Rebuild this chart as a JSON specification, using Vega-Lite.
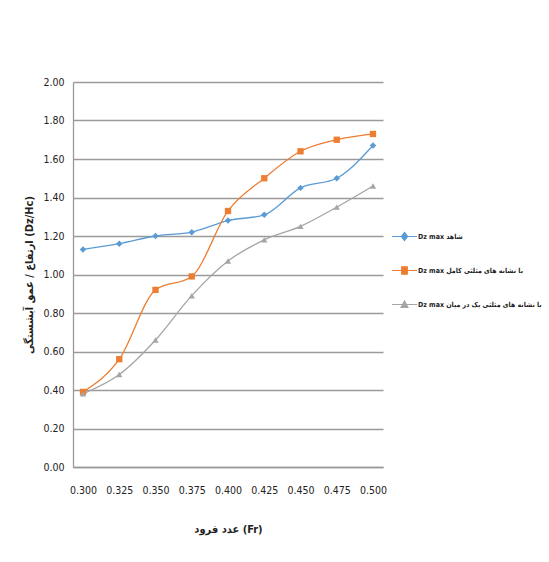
{
  "$schema": "https://vega.github.io/schema/vega-lite/v6.json",
  "autosize": {"type": "none"},
  "width": 310,
  "height": 385,
  "padding": {"left": 73, "top": 82, "right": 166, "bottom": 95},
  "background": "white",
  "config": {
    "font": "DejaVu Sans Condensed",
    "view": {"stroke": null},
    "axis": {"labelColor": "#222", "titleColor": "#222", "domainColor": "#9a9a9a", "domainWidth": 1.3, "ticks": false}
  },
  "data": {
    "values": [
      {"x": 0.300, "y": 1.13, "series": "Dz max شاهد"},
      {"x": 0.325, "y": 1.16, "series": "Dz max شاهد"},
      {"x": 0.350, "y": 1.20, "series": "Dz max شاهد"},
      {"x": 0.375, "y": 1.22, "series": "Dz max شاهد"},
      {"x": 0.400, "y": 1.28, "series": "Dz max شاهد"},
      {"x": 0.425, "y": 1.31, "series": "Dz max شاهد"},
      {"x": 0.450, "y": 1.45, "series": "Dz max شاهد"},
      {"x": 0.475, "y": 1.50, "series": "Dz max شاهد"},
      {"x": 0.500, "y": 1.67, "series": "Dz max شاهد"},
      {"x": 0.300, "y": 0.39, "series": "Dz max با نشانه های مثلثی کامل"},
      {"x": 0.325, "y": 0.56, "series": "Dz max با نشانه های مثلثی کامل"},
      {"x": 0.350, "y": 0.92, "series": "Dz max با نشانه های مثلثی کامل"},
      {"x": 0.375, "y": 0.99, "series": "Dz max با نشانه های مثلثی کامل"},
      {"x": 0.400, "y": 1.33, "series": "Dz max با نشانه های مثلثی کامل"},
      {"x": 0.425, "y": 1.50, "series": "Dz max با نشانه های مثلثی کامل"},
      {"x": 0.450, "y": 1.64, "series": "Dz max با نشانه های مثلثی کامل"},
      {"x": 0.475, "y": 1.70, "series": "Dz max با نشانه های مثلثی کامل"},
      {"x": 0.500, "y": 1.73, "series": "Dz max با نشانه های مثلثی کامل"},
      {"x": 0.300, "y": 0.38, "series": "Dz max با نشانه های مثلثی یک در میان"},
      {"x": 0.325, "y": 0.48, "series": "Dz max با نشانه های مثلثی یک در میان"},
      {"x": 0.350, "y": 0.66, "series": "Dz max با نشانه های مثلثی یک در میان"},
      {"x": 0.375, "y": 0.89, "series": "Dz max با نشانه های مثلثی یک در میان"},
      {"x": 0.400, "y": 1.07, "series": "Dz max با نشانه های مثلثی یک در میان"},
      {"x": 0.425, "y": 1.18, "series": "Dz max با نشانه های مثلثی یک در میان"},
      {"x": 0.450, "y": 1.25, "series": "Dz max با نشانه های مثلثی یک در میان"},
      {"x": 0.475, "y": 1.35, "series": "Dz max با نشانه های مثلثی یک در میان"},
      {"x": 0.500, "y": 1.46, "series": "Dz max با نشانه های مثلثی یک در میان"}
    ]
  },
  "encoding": {
    "x": {
      "field": "x",
      "type": "quantitative",
      "scale": {"domain": [0.2931, 0.5069], "nice": false, "zero": false},
      "axis": {
        "values": [0.3, 0.325, 0.35, 0.375, 0.4, 0.425, 0.45, 0.475, 0.5],
        "format": ".3f",
        "title": "عدد فرود (Fr)",
        "grid": false,
        "labelPadding": 18,
        "labelFontSize": 10.5,
        "titlePadding": 28,
        "titleFontSize": 11,
        "titleFontWeight": "bold"
      }
    },
    "y": {
      "field": "y",
      "type": "quantitative",
      "scale": {"domain": [0, 2], "nice": false},
      "axis": {
        "values": [0, 0.2, 0.4, 0.6, 0.8, 1.0, 1.2, 1.4, 1.6, 1.8, 2.0],
        "format": ".2f",
        "title": "ارتفاع / عمق آبشستگی (Dz/Hc)",
        "grid": true,
        "gridColor": "#9a9a9a",
        "gridWidth": 1.3,
        "labelPadding": 9,
        "labelFontSize": 10.5,
        "titlePadding": 8,
        "titleFontSize": 11,
        "titleFontWeight": "bold"
      }
    },
    "color": {
      "field": "series",
      "type": "nominal",
      "scale": {
        "domain": ["Dz max شاهد", "Dz max با نشانه های مثلثی کامل", "Dz max با نشانه های مثلثی یک در میان"],
        "range": ["#5B9BD5", "#ED7D31", "#A5A5A5"]
      },
      "legend": {
        "title": null,
        "orient": "none",
        "legendX": 314,
        "legendY": 150,
        "direction": "vertical",
        "symbolSize": 49,
        "symbolOffset": 13,
        "labelOffset": 9,
        "rowPadding": 21,
        "labelFontSize": 7,
        "labelFontWeight": "bold",
        "labelColor": "#222",
        "labelLimit": 200,
        "symbolStrokeWidth": 1.1,
        "encode": {"symbols": {"update": {"stroke": {"scale": "color", "field": "value"}, "fill": {"scale": "color", "field": "value"}, "opacity": {"value": 1}}}}
      }
    }
  },
  "layer": [
    {
      "mark": {"type": "line", "interpolate": "monotone", "strokeWidth": 1.3}
    },
    {
      "transform": [{"filter": "datum.series == 'Dz max شاهد'"}],
      "mark": {"type": "point", "filled": true, "opacity": 1, "size": 42, "shape": "diamond"}
    },
    {
      "transform": [{"filter": "datum.series == 'Dz max با نشانه های مثلثی کامل'"}],
      "mark": {"type": "point", "filled": true, "opacity": 1, "size": 40, "shape": "square"}
    },
    {
      "transform": [{"filter": "datum.series == 'Dz max با نشانه های مثلثی یک در میان'"}],
      "mark": {"type": "point", "filled": true, "opacity": 1, "size": 40, "shape": "triangle-up"}
    },
    {
      "transform": [{"filter": "datum.x < 0"}],
      "mark": {"type": "point", "filled": true, "opacity": 1},
      "encoding": {
        "shape": {
          "field": "series",
          "type": "nominal",
          "scale": {
            "domain": ["Dz max شاهد", "Dz max با نشانه های مثلثی کامل", "Dz max با نشانه های مثلثی یک در میان"],
            "range": ["M-3.6,0H3.6M0,-1.2L0.9,0L0,1.2L-0.9,0Z", "M-3.6,0H3.6M-0.8,-1.05H0.8V1.05H-0.8Z", "M-3.6,0H3.6M0,-1L1,0.85H-1Z"]
          },
          "legend": {
            "title": null,
            "orient": "none",
            "legendX": 314,
            "legendY": 150,
            "direction": "vertical",
            "symbolSize": 49,
            "symbolOffset": 13,
            "labelOffset": 9,
            "rowPadding": 21,
            "labelFontSize": 7,
            "labelFontWeight": "bold",
            "labelColor": "#222",
            "labelLimit": 200,
            "symbolStrokeWidth": 1.1,
            "encode": {"symbols": {"update": {"stroke": {"scale": "color", "field": "value"}, "fill": {"scale": "color", "field": "value"}, "opacity": {"value": 1}}}}
          }
        }
      }
    }
  ]
}
